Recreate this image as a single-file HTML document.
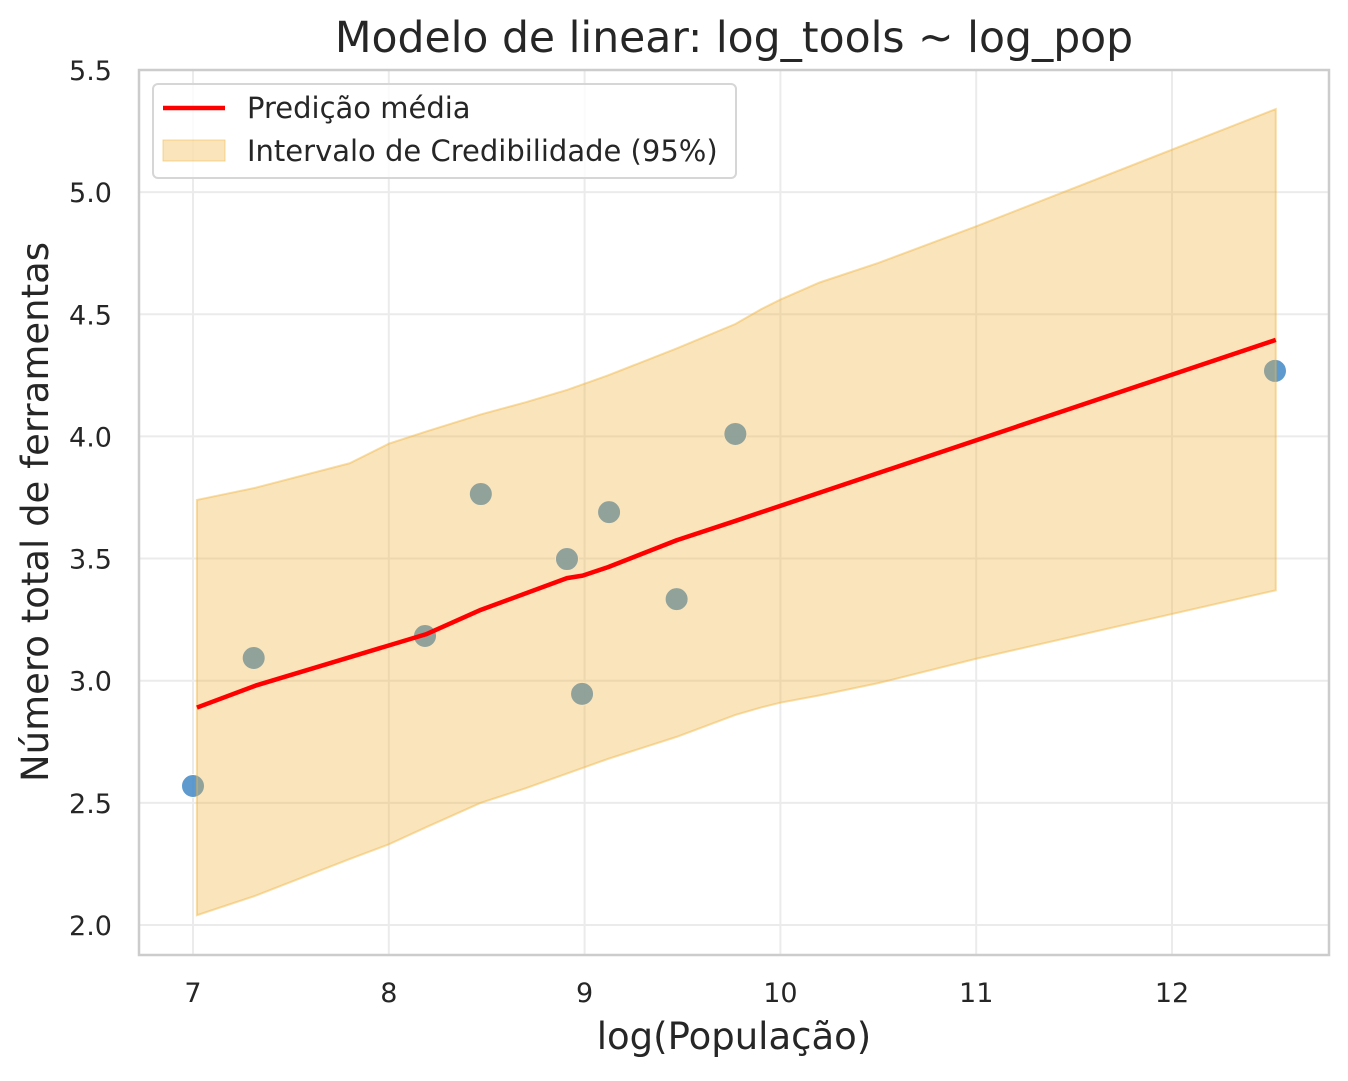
<!DOCTYPE html>
<html><head><meta charset="utf-8"><style>
body{margin:0;background:#fff;}
svg text{font-family:"DejaVu Sans","Liberation Sans",sans-serif;fill:#262626;}
</style></head><body>
<svg id="chart" width="1348" height="1076" xmlns="http://www.w3.org/2000/svg">
<text x="734" y="52" font-size="42.5" text-anchor="middle">Modelo de linear: log_tools ~ log_pop</text>
<text x="734" y="1049" font-size="37" text-anchor="middle">log(População)</text>
<text transform="translate(48,512) rotate(-90)" font-size="37" text-anchor="middle">Número total de ferramentas</text>
<g id="grid"></g>
<g id="pts"></g>
<g id="band"></g>
<g id="line"></g>
<rect x="139" y="70" width="1190" height="885" fill="none" stroke="#cccccc" stroke-width="2.5"/>
<g id="ticks"></g>
<g>
<rect x="153" y="84" width="583" height="94" rx="5" fill="#fff" fill-opacity="0.8" stroke="#d6d6d6" stroke-width="2"/>
<line x1="163" y1="108" x2="225" y2="108" stroke="#ff0000" stroke-width="4.5"/>
<text x="247" y="118" font-size="29">Predição média</text>
<rect x="163" y="140" width="62" height="21" fill="#f0b33d" fill-opacity="0.35" stroke="#f0b33d" stroke-opacity="0.5"/>
<text x="247" y="161" font-size="29">Intervalo de Credibilidade (95%)</text>
</g>
</svg>
<script>
const xTicks=[7,8,9,10,11,12];
const yTicks=[2.0,2.5,3.0,3.5,4.0,4.5,5.0,5.5];
const obsX=[7.0,7.31,8.185,8.47,8.91,8.987,9.125,9.47,9.77,12.526];
const obsY=[2.569,3.093,3.183,3.764,3.498,2.946,3.69,3.334,4.01,4.268];
const meanX=[7.02,7.32,8.19,8.47,8.91,8.99,9.12,9.47,9.77,12.53];
const meanY=[2.89,2.98,3.19,3.29,3.42,3.43,3.465,3.575,3.654,4.395];
const bandX=[7.02,7.32,7.8,8.0,8.19,8.47,8.7,8.91,9.12,9.47,9.77,9.9,10.0,10.2,10.5,11,12.53];
const bandHi=[3.74,3.79,3.89,3.97,4.02,4.09,4.14,4.19,4.25,4.36,4.46,4.52,4.56,4.63,4.71,4.86,5.34];
const bandLo=[2.04,2.12,2.27,2.33,2.40,2.50,2.56,2.62,2.68,2.77,2.86,2.89,2.91,2.94,2.99,3.09,3.37];
const X=v=>193+(v-7)*195.8, Y=v=>925-(v-2)*244.3;
const NS="http://www.w3.org/2000/svg";
function mk(tag,attrs,parent){const e=document.createElementNS(NS,tag);for(const k in attrs)e.setAttribute(k,attrs[k]);document.getElementById(parent).appendChild(e);return e;}
xTicks.forEach(t=>{
 const g=mk('line',{x1:X(t),x2:X(t),y1:70,y2:955,stroke:'#ebebeb','stroke-width':2},'grid');
 
 
 const tx=mk('text',{x:X(t),y:1002,'font-size':27,'text-anchor':'middle'},'ticks');tx.textContent=t;
 
 
});
yTicks.forEach(t=>{
 const g=mk('line',{x1:139,x2:1329,y1:Y(t),y2:Y(t),stroke:'#ebebeb','stroke-width':2},'grid');
 
 
 const tx=mk('text',{x:112,y:Y(t)+10,'font-size':27,'text-anchor':'end'},'ticks');tx.textContent=t.toFixed(1);
 
 
});
obsX.forEach((v,i)=>{
 const c=mk('circle',{cx:X(v),cy:Y(obsY[i]),r:11.5,fill:'#4c8fc9',stroke:'#ffffff','stroke-width':1,'fill-opacity':0.9},'pts');
 
 
});
let d='M'+bandX.map((v,i)=>X(v)+','+Y(bandHi[i])).join(' L');
for(let i=bandX.length-1;i>=0;i--)d+=' L'+X(bandX[i])+','+Y(bandLo[i]);
d+='Z';
const b=mk('path',{d:d,fill:'#f0b33d','fill-opacity':0.35,stroke:'#f0b33d','stroke-opacity':0.45,'stroke-width':2},'band');


const l=mk('polyline',{points:meanX.map((v,i)=>X(v)+','+Y(meanY[i])).join(' '),fill:'none',stroke:'#ff0000','stroke-width':4.5,'stroke-linejoin':'round'},'line');


</script>
</body></html>
